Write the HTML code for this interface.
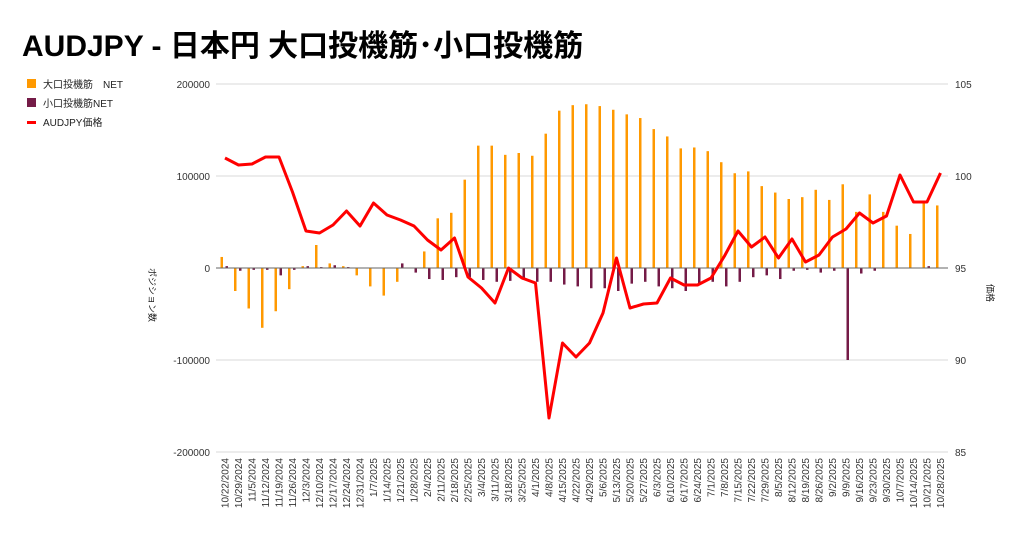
<!DOCTYPE html>
<html><head><meta charset="utf-8"><style>
html,body{margin:0;padding:0;background:#fff;}
svg{display:block;font-family:"Liberation Sans","Noto Sans CJK JP",sans-serif;}
</style></head><body>
<svg id="c" width="1024" height="535" viewBox="0 0 1024 535" xmlns="http://www.w3.org/2000/svg">
<rect width="1024" height="535" fill="#fff"/>
<text x="22" y="56" font-size="30" font-weight="bold" fill="#000">AUDJPY - 日本円 大口投機筋･小口投機筋</text>
<rect x="27" y="79" width="9" height="9" fill="#ff9900"/>
<text x="43" y="88" font-size="10" fill="#222">大口投機筋　NET</text>
<rect x="27" y="98" width="9" height="9" fill="#741b47"/>
<text x="43" y="107" font-size="10" fill="#222">小口投機筋NET</text>
<rect x="27" y="121" width="9" height="3" fill="#ff0000"/>
<text x="43" y="126" font-size="10" fill="#222">AUDJPY価格</text>
<g stroke="#d9d9d9" stroke-width="1">
<line x1="216" x2="948" y1="84" y2="84"/><line x1="216" x2="948" y1="176" y2="176"/>
<line x1="216" x2="948" y1="360" y2="360"/><line x1="216" x2="948" y1="452" y2="452"/>
</g>
<g font-size="10" fill="#333" text-anchor="end">
<text x="210" y="88">200000</text><text x="210" y="180">100000</text><text x="210" y="272">0</text>
<text x="210" y="364">-100000</text><text x="210" y="456">-200000</text>
</g>
<g font-size="10" fill="#333">
<text x="955" y="88">105</text><text x="955" y="180">100</text><text x="955" y="272">95</text>
<text x="955" y="364">90</text><text x="955" y="456">85</text>
</g>
<text transform="translate(149,268) rotate(90)" font-size="9" fill="#222">ポジション数</text>
<text transform="translate(987,284) rotate(90)" font-size="9" fill="#222">価格</text>
<g id="bars"></g>
<line x1="216" x2="948" y1="268" y2="268" stroke="#666" stroke-width="1"/>
<g id="line"></g>
<g id="labels" font-size="10" fill="#333" text-anchor="end"></g>
</svg>
<script>
const d=["10/22/2024","10/29/2024","11/5/2024","11/12/2024","11/19/2024","11/26/2024","12/3/2024","12/10/2024","12/17/2024","12/24/2024","12/31/2024","1/7/2025","1/14/2025","1/21/2025","1/28/2025","2/4/2025","2/11/2025","2/18/2025","2/25/2025","3/4/2025","3/11/2025","3/18/2025","3/25/2025","4/1/2025","4/8/2025","4/15/2025","4/22/2025","4/29/2025","5/6/2025","5/13/2025","5/20/2025","5/27/2025","6/3/2025","6/10/2025","6/17/2025","6/24/2025","7/1/2025","7/8/2025","7/15/2025","7/22/2025","7/29/2025","8/5/2025","8/12/2025","8/19/2025","8/26/2025","9/2/2025","9/9/2025","9/16/2025","9/23/2025","9/30/2025","10/7/2025","10/14/2025","10/21/2025","10/28/2025"];
const o=[12,-25,-44,-65,-47,-23,2,25,5,2,-8,-20,-30,-15,0,18,54,60,96,133,133,123,125,122,146,171,177,178,176,172,167,163,151,143,130,131,127,115,103,105,89,82,75,77,85,74,91,61,80,61,46,37,72,68];
const p=[2,-3,-2,-2,-8,-2,2,1,3,1,0,0,0,5,-5,-12,-13,-10,-10,-13,-15,-14,-13,-15,-15,-18,-20,-22,-22,-25,-17,-15,-20,-22,-25,-18,-15,-20,-15,-10,-8,-12,-3,-2,-5,-3,-100,-6,-3,0,0,0,2,0];
const py=[158,165,164,157,157,192,231,233,225,211,226,203,215,220,226,240,250,238,277,288,303,268,278,283,418,343,357,343,313,258,308,304,303,278,285,285,278,256,231,247,237,258,239,262,255,237,229,213,223,216,175,202,202,173];
let bars="",labels="",pts=[];
for(let i=0;i<54;i++){
 const x=225+13.5*i;
 const ov=o[i]*0.92, pv=p[i]*0.92;
 bars+=`<rect x="${x-4.5}" y="${Math.min(268,268-ov)}" width="2.5" height="${Math.abs(ov)}" fill="#ff9900"/>`;
 bars+=`<rect x="${x+0.5}" y="${Math.min(268,268-pv)}" width="2.5" height="${Math.abs(pv)}" fill="#741b47"/>`;
 labels+=`<text transform="translate(${x+3.5},458) rotate(-90)">${d[i]}</text>`;
 pts.push(x+","+py[i]);
}
document.getElementById("bars").innerHTML=bars;
document.getElementById("labels").innerHTML=labels;
document.getElementById("line").innerHTML=`<polyline points="${pts.join(" ")}" fill="none" stroke="#ff0000" stroke-width="3" stroke-linejoin="round"/>`;
</script>
</body></html>
